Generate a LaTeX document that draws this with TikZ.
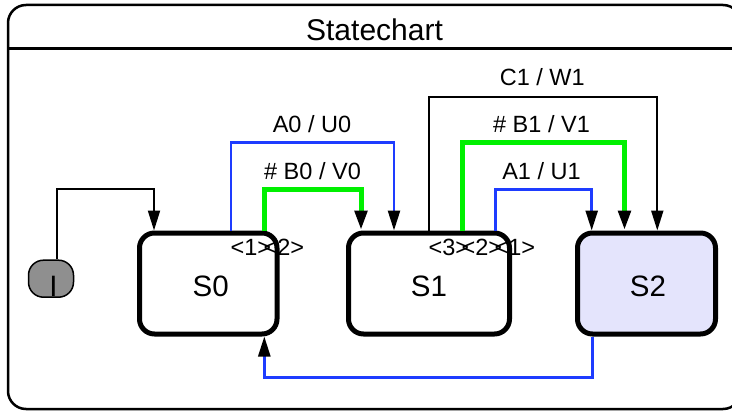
\documentclass[tikz,border=0pt]{standalone}
\usepackage{fontspec}
\setmainfont{Liberation Sans}
\usetikzlibrary{arrows.meta}

\definecolor{trblue}{RGB}{30,60,255}
\definecolor{trgreen}{RGB}{0,240,0}
\definecolor{activefill}{RGB}{228,228,252}
\definecolor{initfill}{RGB}{143,143,143}

\tikzset{
  chartframe/.style={draw, line width=2.5pt, rounded corners=18pt},
  stbox/.style={draw, line width=5pt, rounded corners=15pt, fill=white,
    inner sep=0pt, text height=26pt, text depth=0pt,
    font=\fontsize{29.5}{32}\selectfont},
  initbox/.style={draw, line width=1.5pt, rounded corners=15pt, fill=initfill,
    minimum width=45pt, minimum height=37pt, inner sep=0pt},
  bigtext/.style={anchor=base, inner sep=0pt, font=\fontsize{29.5}{32}\selectfont},
  tip/.style={-{Triangle[length=20pt,width=12pt,color=black]}},
  trblack/.style={tip, draw=black, line width=2pt},
  trblu/.style={tip, draw=trblue, line width=2.5pt},
  trgrn/.style={tip, draw=trgreen, line width=5pt},
  trlabel/.style={anchor=base, inner sep=0pt, font=\fontsize{23.5}{26}\selectfont},
  priolabel/.style={anchor=base west, inner sep=0pt, font=\fontsize{23.5}{26}\selectfont},
}

\begin{document}
\begin{tikzpicture}[x=1pt, y=-1pt]
  \useasboundingbox (0,0) rectangle (732,412);

  % enclosing statechart frame with its title bar
  \draw[chartframe] (8,5) rectangle (741,409);
  \draw[line width=2.5pt] (8,48.3) -- (741,48.3);
  \node[anchor=base, inner sep=0pt, font=\fontsize{30}{32}\selectfont] (title) at (374.5,41) {Statechart};

  % states
  \node[stbox, minimum width=137.5pt, minimum height=101pt] (S0) at (208.25,283.5) {\hspace{5pt}S0};
  \node[stbox, minimum width=161pt, minimum height=101pt] (S1) at (429,283.5) {S1};
  \node[stbox, fill=activefill, minimum width=138pt, minimum height=101pt] (S2) at (646.5,283.5) {\hspace{3pt}S2};

  % initial pseudo-state
  \node[initbox] (I) at (51,278.7) {};
  \node[bigtext] (Itext) at (53.5,296.7) {I};

  % initial transition
  \draw[trblack] (56.7,0 |- I.north) -- (56.7,189) -- (154,189) -- (154,0 |- S0.north);

  % S0 -> S1
  \draw[trblu] (231,0 |- S0.north) -- (231,142.7) -- (394,142.7) -- (394,0 |- S1.north);
  \draw[trgrn] (264.5,0 |- S0.north) -- (264.5,189.3) -- (361,189.3) -- (361,0 |- S1.north);
  \node[trlabel] (lA0) at (312,132.3) {A0 / U0};
  \node[trlabel] (lB0) at (312.5,179) {\# B0 / V0};

  % S1 -> S2
  \draw[trblack] (429.3,0 |- S1.north) -- (429.3,96.7) -- (657.3,96.7) -- (657.3,0 |- S2.north);
  \draw[trgrn] (462.3,0 |- S1.north) -- (462.3,142.7) -- (624.5,142.7) -- (624.5,0 |- S2.north);
  \draw[trblu] (495.7,0 |- S1.north) -- (495.7,189.3) -- (591.7,189.3) -- (591.7,0 |- S2.north);
  \node[trlabel] (lC1) at (542.3,86) {C1 / W1};
  \node[trlabel] (lB1) at (541.5,132.7) {\# B1 / V1};
  \node[trlabel] (lA1) at (541.5,179) {A1 / U1};

  % S2 -> S0
  \draw[trblu] (592.3,0 |- S2.south) -- (592.3,377.7) -- (264.3,377.7) -- (264.3,0 |- S0.south);

  % transition priorities
  \node[priolabel] (p0a) at (230.5,255) {<1>};
  \node[priolabel] (p0b) at (263.5,255) {<2>};
  \node[priolabel] (p1c) at (428.5,255) {<3>};
  \node[priolabel] (p1b) at (461.5,255) {<2>};
  \node[priolabel] (p1a) at (494.5,255) {<1>};
\end{tikzpicture}
\end{document}
